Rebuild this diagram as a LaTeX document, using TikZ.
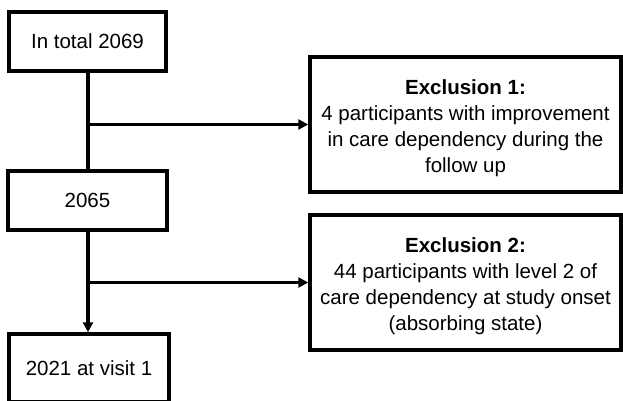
\documentclass[tikz,border=0pt]{standalone}
\usepackage{fontspec}
\setmainfont{Liberation Sans}
\usetikzlibrary{arrows.meta}
\begin{document}
\begin{tikzpicture}[x=1pt,y=-1pt,
  txt/.style={align=center,inner sep=0pt,font=\fontsize{20.5}{26}\selectfont},
  box/.style={draw=black,line width=3.5pt,fill=white,inner sep=0pt,txt},
  conn/.style={draw=black,line width=3.5pt},
  arr/.style={conn,-{Triangle[length=10pt,width=10pt]}}]
\useasboundingbox (0,0) rectangle (623,400);
\clip (0,0) rectangle (623,400);
\fill[white] (0,0) rectangle (623,400);
\node[box,minimum width=157pt,minimum height=59pt] (total) at (87.5,41.5) {In total 2069};
\node[box,minimum width=159pt,minimum height=59pt] (n2065) at (87.5,200.5) {2065};
\node[box,minimum width=160pt,minimum height=68pt] (visit) at (89,368) {2021 at visit 1};
\node[box,minimum width=311pt,minimum height=135pt,
  label={[txt,yshift=-3.5pt]center:{\textbf{Exclusion 1:}\\4 participants with improvement\\in care dependency during the\\follow up}}]
  (ex1) at (465.5,124.5) {};
\node[box,minimum width=311pt,minimum height=135pt,
  label={[txt,yshift=-3.5pt]center:{\textbf{Exclusion 2:}\\44 participants with level 2 of\\care dependency at study onset\\(absorbing state)}}]
  (ex2) at (465.5,282.5) {};
\coordinate (j1) at (88,124.5);
\coordinate (j2) at (88,282.5);
\draw[conn] (total.south -| j1) -- (n2065.north -| j1);
\draw[arr] (j1) -- (ex1.west);
\draw[arr] (n2065.south -| j2) -- (visit.north -| j2);
\draw[arr] (j2) -- (ex2.west);
\end{tikzpicture}
\end{document}
